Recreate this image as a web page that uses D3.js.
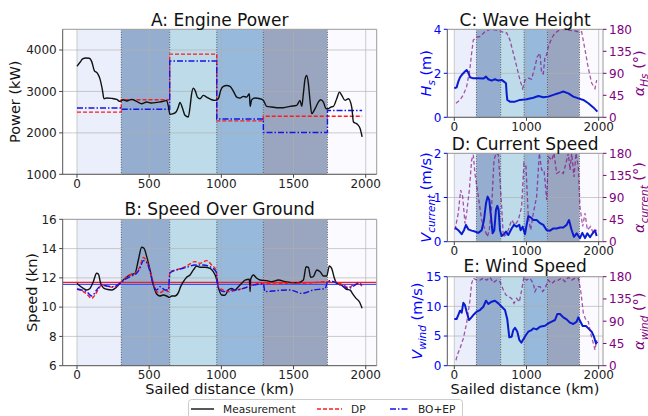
<!DOCTYPE html>
<html><head><meta charset="utf-8">
<script src="https://cdn.jsdelivr.net/npm/d3@7"></script>
<style>body{margin:0;background:#fff} svg{display:block;font-family:"DejaVu Sans",sans-serif}</style>
</head><body><svg id="c" width="648" height="416"></svg>
<script>
// ---------- DATA ----------
const regionStarts = [0, 307, 642, 968, 1291, 1735];
const regionEnds   = [307, 642, 968, 1291, 1735, 2100];
const regionColors = ["#ebeffb", "#95aecf", "#bddbe8", "#97b9dc", "#9aa5bf", "#fbfbff"];
const xTicksMain = [0, 500, 1000, 1500, 2000];
const xTicksSide = [0, 1000, 2000];

// A: Engine power
const powerDist = [0,21,39,62,85,102,120,141,159,176,187,206,240,275,298,321,344,379,413,448,483,517,552,598,621,633,644,667,686,702,713,732,748,771,783,794,806,820,834,852,875,898,933,956,979,995,1014,1037,1060,1083,1106,1129,1152,1175,1194,1199,1210,1233,1268,1291,1314,1349,1383,1430,1476,1522,1545,1557,1568,1580,1591,1603,1614,1626,1649,1672,1688,1707,1725,1741,1758,1776,1799,1818,1834,1857,1880,1903,1915,1942,1961,1975];
const powerMeas = [3608,3704,3784,3808,3800,3720,3504,3440,3304,3040,2824,2840,2832,2808,2760,2800,2768,2808,2760,2704,2744,2720,2736,2760,2784,2640,2448,2464,2504,2624,2736,2584,2424,2384,2624,2944,3080,3008,2864,2824,2904,2864,2800,2784,2824,3024,3120,3144,3120,3008,2864,2840,2880,2864,2944,2640,2800,2840,2824,2784,2640,2624,2608,2608,2640,2664,2784,2640,2944,3304,3384,3184,2784,2464,2584,2744,2800,2744,2584,2584,2624,2640,2824,2984,2904,2784,2824,2624,2264,2208,2104,1904];
const stepDist = [0, 307, 642, 968, 1291, 1735, 1975];
const dpPower  = [2500, 2800, 3900, 2290, 2400, 2400, 2400];
const boPower  = [2600, 2570, 3735, 2335, 2010, 2540, 2540];

// B: Speed over ground
const sogDist = [0,21,44,67,90,113,136,148,164,182,206,240,263,298,333,367,402,425,448,464,483,506,529,552,575,598,621,640,656,679,702,718,737,760,783,806,829,852,887,921,944,963,979,1002,1025,1048,1071,1094,1118,1141,1164,1194,1199,1203,1222,1245,1268,1314,1349,1395,1441,1487,1533,1568,1587,1603,1619,1637,1661,1684,1707,1730,1748,1764,1783,1799,1822,1845,1868,1891,1910,1933,1956,1975];
const sogMeas = [11.63,11.44,11.28,11.17,11.28,11.74,12.31,12.26,11.63,11.33,11.22,11.17,11.28,11.63,11.97,12.2,12.31,13.22,14.09,14.02,13.45,12.54,11.51,10.9,10.76,10.83,10.76,10.67,10.76,10.76,10.99,11.4,11.74,12.04,12.2,12.54,12.81,12.72,12.72,12.65,12.42,12.04,11.35,10.83,10.81,11.17,11.28,11.17,11.4,11.63,11.85,11.9,11.06,11.9,12.2,11.97,11.85,11.81,11.74,11.85,11.74,11.67,11.67,11.85,12.76,12.72,12.04,12.08,12.54,12.42,12.13,12.13,12.81,12.65,11.97,11.63,11.58,11.4,11.22,11.17,10.9,10.6,10.37,9.92];
const dpSogDist = [0,32,67,102,125,148,171,206,252,298,333,367,402,436,460,483,506,529,552,575,610,633,644,679,725,771,817,852,898,933,963,979,1014,1060,1106,1152,1222,1291,1360,1453,1545,1637,1707,1741,1776,1810,1845,1880,1915,1949,1975];
const dpSog = [11.22,11.13,10.9,10.6,10.83,11.22,11.51,11.44,11.35,11.63,11.97,12.2,12.31,12.76,13.4,13.11,12.54,11.63,11.06,10.99,11.17,11.06,12.42,12.54,12.65,12.88,13.11,12.99,13.18,12.88,12.54,11.4,11.17,11.06,11.17,11.28,11.51,11.63,11.58,11.63,11.63,11.67,11.74,11.74,11.74,11.63,11.51,11.35,11.51,11.58,11.44];
const boSogDist = [0,32,67,102,136,171,206,252,298,333,379,413,436,460,483,506,529,552,575,610,633,644,690,760,817,875,921,963,979,1014,1060,1106,1152,1222,1291,1302,1383,1476,1557,1637,1718,1741,1776,1810,1845,1880,1915,1949,1975];
const boSog = [11.24,11.17,11.06,10.76,11.17,11.51,11.44,11.4,11.63,11.9,12.13,12.31,12.65,13.18,13.04,12.42,11.51,11.17,11.4,11.17,11.17,12.35,12.54,12.72,12.88,12.88,12.76,12.42,11.35,11.06,11.17,11.17,11.28,11.51,11.58,11.06,11.13,11.17,10.94,11.17,11.28,11.81,11.74,11.58,11.4,11.28,11.44,11.63,11.51];
const dpMeanSog = 11.69;
const boMeanSog = 11.56;

// C: Wave height
const hsDist = [0,32,55,79,115,148,171,194,217,263,333,402,439,471,517,563,610,656,688,716,725,734,771,841,910,1002,1095,1164,1233,1303,1372,1441,1510,1580,1649,1718,1788,1857,1926,1982];
const hsVal = [1.32,1.36,1.62,1.82,1.97,2.08,2.15,2.03,1.82,1.77,1.77,1.76,1.85,1.73,1.67,1.73,1.67,1.7,1.62,1.55,1.09,0.79,0.71,0.71,0.79,0.82,0.89,0.97,0.91,0.94,1.02,1.09,1.17,1.09,0.94,0.86,0.79,0.64,0.45,0.26];
const hsDirDist = [23,79,125,171,217,240,263,309,356,425,494,563,633,702,725,771,818,864,910,947,979,1025,1071,1118,1150,1187,1210,1233,1256,1280,1303,1349,1395,1464,1556,1649,1718,1764,1811,1857,1903,1949,1972];
const hsDir = [28.6,35.5,45.7,62.7,100,131,158,164,165,175,180,179,177,172,173,158,131,104,76,59,76,80,78,104,124,131,90,89,124,128,145,162,172,180,179,177,175,175,138,100,70,59,76];

// D: Current speed
const curDist = [9,55,102,134,162,194,240,286,333,379,411,439,462,485,508,531,554,577,596,614,633,656,688,716,748,794,827,864,901,919,947,979,1002,1025,1058,1095,1141,1187,1233,1280,1326,1372,1418,1464,1510,1556,1589,1626,1658,1695,1741,1774,1811,1843,1880,1917,1949,1972];
const curVal = [0.32,0.26,0.17,0.26,0.38,0.28,0.25,0.23,0.2,0.26,0.49,0.87,1.02,0.94,0.57,0.19,0.26,0.72,0.81,0.72,0.26,0.13,0.17,0.23,0.15,0.3,0.38,0.34,0.38,0.26,0.34,0.17,0.38,0.58,0.55,0.49,0.49,0.42,0.38,0.26,0.25,0.3,0.3,0.32,0.32,0.38,0.49,0.26,0.11,0.19,0.08,0.2,0.08,0.19,0.1,0.19,0.26,0.13];
const curDirDist = [9,55,88,116,148,171,208,240,263,286,333,379,425,457,485,517,550,577,610,633,656,679,716,748,794,841,887,933,965,993,1025,1058,1095,1141,1178,1210,1243,1280,1303,1349,1381,1418,1464,1510,1547,1580,1603,1626,1658,1686,1718,1741,1778,1811,1843,1889,1926,1972];
const curDir = [24,58,105,92,37,58,105,166,177,139,92,44,24,10,24,71,166,180,177,126,71,10,14,24,44,34,44,71,160,153,51,24,58,92,180,146,146,85,173,166,180,139,143,139,160,180,146,180,132,180,153,71,31,58,24,31,17,24];

// E: Wind speed
const windDist = [0,32,55,79,102,125,148,171,203,226,263,309,356,402,439,471,517,563,610,656,702,734,762,794,818,841,873,901,929,956,993,1025,1071,1095,1141,1187,1256,1303,1349,1395,1427,1464,1510,1556,1603,1649,1695,1718,1741,1778,1824,1857,1903,1935,1963,1982];
const windVal = [7.87,7.87,8.54,9.27,8.93,10.6,10.2,9.1,7.7,7.98,8.54,9.1,9.38,9.94,10.96,10.39,10.79,10.96,10.51,9.94,9.38,7.81,4.78,4.89,6.01,6.4,5.73,4.33,3.88,4.44,5.17,5.73,6.01,6.29,6.12,6.57,6.74,7.13,7.42,7.7,8.71,8.71,8.15,7.81,7.25,7.02,7.42,8.15,7.58,6.69,6.69,6.29,5.73,4.89,3.76,4.04];
const windDirDist = [23,42,79,125,171,217,240,263,309,356,402,448,494,540,586,633,679,716,748,794,827,864,901,933,965,1002,1048,1095,1118,1150,1187,1224,1256,1303,1349,1395,1441,1487,1533,1580,1626,1672,1718,1750,1788,1824,1857,1889,1926,1949,1972];
const windDir = [11,22,35,55,86,133,166,177,173,173,177,173,179,168,173,170,153,143,140,136,126,136,129,153,179,173,177,166,150,160,160,150,156,173,166,172,173,177,170,179,173,177,177,153,106,92,89,65,45,32,52];

const angleTicks = [0, 45, 90, 135, 180];

// ---------- DRAWING ----------
const svg = d3.select("#c");
const FONT_TICK = 12, FONT_LABEL = 14.5, FONT_TITLE = 17;
const BLUE_AX = "#0000ff", PURPLE = "#800080", LINE_BLUE = "#0a1ccf";
let clipId = 0;

function panel(o) {
  const x = d3.scaleLinear().domain(o.xdom).range([o.left, o.right]);
  const y = d3.scaleLinear().domain(o.ydom).range([o.bottom, o.top]);
  const g = svg.append("g");
  const id = "clip" + (clipId++);
  svg.append("clipPath").attr("id", id).append("rect")
    .attr("x", o.left).attr("y", o.top).attr("width", o.right - o.left).attr("height", o.bottom - o.top);
  const inner = g.append("g").attr("clip-path", `url(#${id})`);
  inner.selectAll("rect.reg").data(regionStarts).join("rect")
    .attr("x", (d) => x(d)).attr("y", o.top)
    .attr("width", (d, i) => x(regionEnds[i]) - x(d)).attr("height", o.bottom - o.top)
    .attr("fill", (d, i) => regionColors[i]);
  inner.selectAll("line.gx").data(o.xticks).join("line")
    .attr("x1", d => x(d)).attr("x2", d => x(d)).attr("y1", o.top).attr("y2", o.bottom)
    .attr("stroke", "#b0b0b0").attr("stroke-opacity", 0.7).attr("stroke-width", 0.9);
  inner.selectAll("line.gy").data(o.yticks).join("line")
    .attr("x1", o.left).attr("x2", o.right).attr("y1", d => y(d)).attr("y2", d => y(d))
    .attr("stroke", "#b0b0b0").attr("stroke-opacity", 0.7).attr("stroke-width", 0.9);
  inner.selectAll("line.rb").data(regionStarts.slice(1)).join("line")
    .attr("x1", d => x(d)).attr("x2", d => x(d)).attr("y1", o.top).attr("y2", o.bottom)
    .attr("stroke", "#2a2f3a").attr("stroke-width", 0.8).attr("stroke-dasharray", "1,1.5");
  return { x, y, g, inner, o };
}

function finishPanel(p, opts) {
  const { x, y, g, o } = p;
  g.append("line").attr("x1", o.left).attr("x2", o.right).attr("y1", o.top).attr("y2", o.top).attr("stroke", "#9a9a9a").attr("stroke-width", 1);
  g.append("line").attr("x1", o.right).attr("x2", o.right).attr("y1", o.top).attr("y2", o.bottom).attr("stroke", "#9a9a9a").attr("stroke-width", 1);
  g.append("line").attr("x1", o.left).attr("x2", o.left).attr("y1", o.top).attr("y2", o.bottom).attr("stroke", "#555").attr("stroke-width", 1);
  g.append("line").attr("x1", o.left).attr("x2", o.right).attr("y1", o.bottom).attr("y2", o.bottom).attr("stroke", "#555").attr("stroke-width", 1);
  o.xticks.forEach(t => {
    g.append("line").attr("x1", x(t)).attr("x2", x(t)).attr("y1", o.bottom).attr("y2", o.bottom + 3.5).attr("stroke", "#444");
    g.append("text").attr("x", x(t)).attr("y", o.bottom + 13.5).attr("text-anchor", "middle")
      .attr("font-size", FONT_TICK).attr("fill", "#222").text(t);
  });
  const yc = opts.yColor || "#222";
  o.yticks.forEach(t => {
    g.append("line").attr("x1", o.left - 3.5).attr("x2", o.left).attr("y1", y(t)).attr("y2", y(t)).attr("stroke", opts.yColor || "#444");
    g.append("text").attr("x", o.left - 6).attr("y", y(t) + 4.3).attr("text-anchor", "end")
      .attr("font-size", FONT_TICK).attr("fill", yc).text(t);
  });
  svg.append("text").attr("x", (o.left + o.right) / 2).attr("y", opts.titleY).attr("text-anchor", "middle")
    .attr("font-size", FONT_TITLE).attr("fill", "#111").text(opts.title);
}

function mathLabel(parent, parts, attrs) {
  const t = parent.append("text");
  Object.entries(attrs).forEach(([k, v]) => t.attr(k, v));
  let shift = 0;
  parts.forEach(pt => {
    const ts = t.append("tspan").text(pt.t);
    if (pt.i) ts.attr("font-style", "italic");
    const target = pt.sub ? 4 : 0;
    if (target !== shift) { ts.attr("dy", target - shift); shift = target; }
    if (pt.sub) ts.attr("font-size", FONT_LABEL * 0.72);
  });
  return t;
}

function yLabelLeft(text, cx, cy, color) {
  svg.append("text").attr("transform", `translate(${cx},${cy}) rotate(-90)`).attr("text-anchor", "middle")
    .attr("font-size", FONT_LABEL).attr("fill", color || "#111").text(text);
}

const lineGen = (x, y, xs, ys, curve) => d3.line().x((d, i) => x(xs[i])).y((d, i) => y(ys[i])).curve(curve || d3.curveLinear)(ys);

// ---------- Panel A ----------
const A = panel({ left: 62.7, right: 376.7, top: 29.3, bottom: 174.3, xdom: [-99, 2076], ydom: [1000, 4500], xticks: xTicksMain, yticks: [1000, 2000, 3000, 4000] });
A.inner.append("path").attr("d", lineGen(A.x, A.y, stepDist, dpPower, d3.curveStepAfter)).attr("fill", "none").attr("stroke", "#ff1a1a").attr("stroke-width", 1.4).attr("stroke-dasharray", "4,2");
A.inner.append("path").attr("d", lineGen(A.x, A.y, stepDist, boPower, d3.curveStepAfter)).attr("fill", "none").attr("stroke", "#1414e6").attr("stroke-width", 1.4).attr("stroke-dasharray", "6,2,1.5,2");
A.inner.append("path").attr("d", lineGen(A.x, A.y, powerDist, powerMeas, d3.curveMonotoneX)).attr("fill", "none").attr("stroke", "#111").attr("stroke-width", 1.4);
finishPanel(A, { title: "A: Engine Power", titleY: 26 });
yLabelLeft("Power (kW)", 20, (29.3 + 174.3) / 2);

// ---------- Panel B ----------
const B = panel({ left: 62.7, right: 376.7, top: 219.3, bottom: 365.7, xdom: [-99, 2076], ydom: [6, 16], xticks: xTicksMain, yticks: [6, 8, 10, 12, 14, 16] });
B.inner.append("line").attr("x1", 62.7).attr("x2", 376.7).attr("y1", B.y(dpMeanSog)).attr("y2", B.y(dpMeanSog)).attr("stroke", "#ff1a1a").attr("stroke-width", 1.2);
B.inner.append("line").attr("x1", 62.7).attr("x2", 376.7).attr("y1", B.y(boMeanSog)).attr("y2", B.y(boMeanSog)).attr("stroke", "#3355ff").attr("stroke-width", 1.2);
B.inner.append("path").attr("d", lineGen(B.x, B.y, sogDist, sogMeas, d3.curveMonotoneX)).attr("fill", "none").attr("stroke", "#111").attr("stroke-width", 1.4);
B.inner.append("path").attr("d", lineGen(B.x, B.y, dpSogDist, dpSog, d3.curveMonotoneX)).attr("fill", "none").attr("stroke", "#ff1a1a").attr("stroke-width", 1.4).attr("stroke-dasharray", "4,2");
B.inner.append("path").attr("d", lineGen(B.x, B.y, boSogDist, boSog, d3.curveMonotoneX)).attr("fill", "none").attr("stroke", "#1414e6").attr("stroke-width", 1.4).attr("stroke-dasharray", "6,2,1.5,2");
finishPanel(B, { title: "B: Speed Over Ground", titleY: 215 });
yLabelLeft("Speed (kn)", 37, (219.3 + 365.7) / 2);
svg.append("text").attr("x", (62.7 + 376.7) / 2).attr("y", 393.5).attr("text-anchor", "middle").attr("font-size", FONT_LABEL).attr("fill", "#111").text("Sailed distance (km)");

// ---------- Twin panels ----------
function twin(spec) {
  const p = panel({ left: 447.3, right: 603, top: spec.top, bottom: spec.bottom, xdom: [-97, 2060], ydom: spec.ydom, xticks: xTicksSide, yticks: spec.yticks });
  const y2 = d3.scaleLinear().domain([0, 180]).range([spec.bottom, spec.top]);
  p.inner.append("path").attr("d", lineGen(p.x, p.y, spec.vx, spec.vy)).attr("fill", "none").attr("stroke", LINE_BLUE).attr("stroke-width", 2).attr("stroke-linejoin", "round");
  p.inner.append("path").attr("d", lineGen(p.x, y2, spec.ax, spec.ay)).attr("fill", "none").attr("stroke", PURPLE).attr("stroke-opacity", 0.65).attr("stroke-width", 1.3).attr("stroke-dasharray", "4,2.5");
  finishPanel(p, { title: spec.title, titleY: spec.titleY, yColor: BLUE_AX });
  angleTicks.forEach(t => {
    p.g.append("line").attr("x1", 603).attr("x2", 606.5).attr("y1", y2(t)).attr("y2", y2(t)).attr("stroke", PURPLE);
    p.g.append("text").attr("x", 609).attr("y", y2(t) + 4.3).attr("font-size", FONT_TICK).attr("fill", PURPLE).text(t);
  });
  const cy = (spec.top + spec.bottom) / 2;
  const gl = svg.append("g").attr("transform", `translate(${spec.leftLabelX},${cy}) rotate(-90)`);
  mathLabel(gl, spec.leftLabel, { "text-anchor": "middle", "font-size": FONT_LABEL, fill: BLUE_AX });
  const gr = svg.append("g").attr("transform", `translate(643.5,${cy}) rotate(-90)`);
  mathLabel(gr, spec.rightLabel, { "text-anchor": "middle", "font-size": FONT_LABEL, fill: PURPLE });
  return p;
}

twin({ top: 29.3, bottom: 117.3, ydom: [0, 4], yticks: [0, 2, 4], vx: hsDist, vy: hsVal, ax: hsDirDist, ay: hsDir,
  title: "C: Wave Height", titleY: 26, leftLabelX: 430.5,
  leftLabel: [{ t: "H", i: true }, { t: "s", i: true, sub: true }, { t: " (m)" }],
  rightLabel: [{ t: "α", i: true }, { t: "Hs", i: true, sub: true }, { t: " (°)" }] });

twin({ top: 153.3, bottom: 241.7, ydom: [0, 2], yticks: [0, 1, 2], vx: curDist, vy: curVal, ax: curDirDist, ay: curDir,
  title: "D: Current Speed", titleY: 150, leftLabelX: 430.5,
  leftLabel: [{ t: "V", i: true }, { t: "current", i: true, sub: true }, { t: " (m/s)" }],
  rightLabel: [{ t: "α", i: true }, { t: "current", i: true, sub: true }, { t: " (°)" }] });

twin({ top: 276.7, bottom: 365.7, ydom: [0, 15], yticks: [0, 5, 10, 15], vx: windDist, vy: windVal, ax: windDirDist, ay: windDir,
  title: "E: Wind Speed", titleY: 272, leftLabelX: 422,
  leftLabel: [{ t: "V", i: true }, { t: "wind", i: true, sub: true }, { t: " (m/s)" }],
  rightLabel: [{ t: "α", i: true }, { t: "wind", i: true, sub: true }, { t: " (°)" }] });

svg.append("text").attr("x", 525).attr("y", 393.5).attr("text-anchor", "middle").attr("font-size", FONT_LABEL).attr("fill", "#111").text("Sailed distance (km)");

// ---------- Legend ----------
const legendItems = [
  { name: "Measurement", color: "#111", dash: null, x1: 191, x2: 214, tx: 223 },
  { name: "DP", color: "#ff1a1a", dash: "4,2", x1: 317, x2: 342, tx: 351 },
  { name: "BO+EP", color: "#1414e6", dash: "6,2,1.5,2", x1: 390, x2: 408, tx: 418 }
];
const lg = svg.append("g");
lg.append("rect").attr("x", 188.5).attr("y", 399.5).attr("width", 274).attr("height", 30).attr("rx", 3)
  .attr("fill", "#fff").attr("stroke", "#cccccc").attr("stroke-width", 1);
legendItems.forEach(it => {
  const l = lg.append("line").attr("x1", it.x1).attr("x2", it.x2).attr("y1", 409).attr("y2", 409).attr("stroke", it.color).attr("stroke-width", 1.4);
  if (it.dash) l.attr("stroke-dasharray", it.dash);
  lg.append("text").attr("x", it.tx).attr("y", 413.2).attr("font-size", 10.6).attr("fill", "#222").text(it.name);
});
</script></body></html>
